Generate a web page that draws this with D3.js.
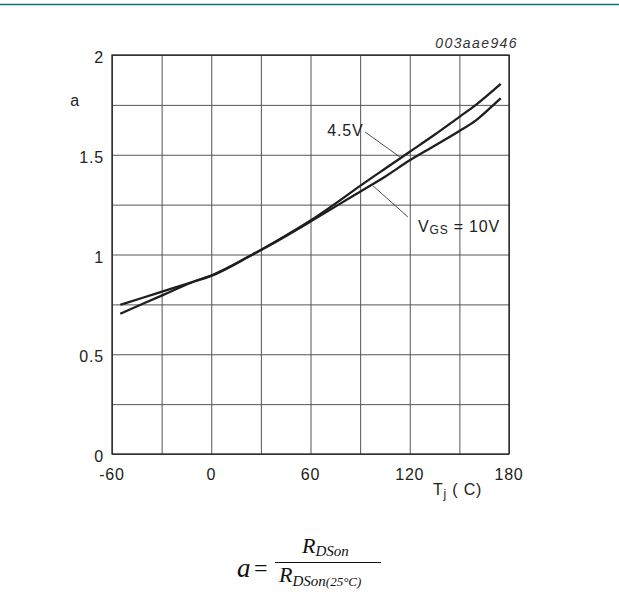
<!DOCTYPE html>
<html lang="en">
<head>
    <meta charset="UTF-8">
    <title>a vs Tj</title>
    <script src="https://d3js.org/d3.v7.min.js"></script>
    <style>
        body { margin: 0; background: #fff; }
        svg { font-family: "Liberation Sans", Arial, sans-serif; }
        .grid line { stroke: #555; stroke-width: 1; }
        .grid path { display: none; }
        .lbl { font-size: 16px; fill: #222; letter-spacing: 0.8px; }
    </style>
</head>
<body>
    <div id="chart"></div>

    <script>
        // junction temperature (°C) and normalised RDSon
        var temp45 = [-55, -40, -25, -10, 0, 25, 40, 60, 75, 90, 105, 120, 135, 150, 160, 175];
        var a45    = [0.703, 0.758, 0.812, 0.866, 0.895, 1.0, 1.07, 1.17, 1.255, 1.344, 1.43, 1.515, 1.60, 1.69, 1.75, 1.855];

        var temp10 = [-55, -40, -25, -10, 0, 25, 40, 60, 75, 90, 105, 120, 135, 150, 160, 170, 175];
        var a10    = [0.748, 0.787, 0.826, 0.866, 0.893, 1.0, 1.068, 1.165, 1.24, 1.315, 1.39, 1.472, 1.545, 1.619, 1.672, 1.745, 1.783];

        var xTicks = [-60, 0, 60, 120, 180];
        var yTicks = [0, 0.5, 1, 1.5, 2];

        var width = 619,
            height = 603;

        var svg = d3.select("#chart")
                    .append("svg")
                    .attr("width", width)
                    .attr("height", height);

        // teal rule at the top of the page
        svg.append("line")
           .attr("x1", 0).attr("x2", width)
           .attr("y1", 4.5).attr("y2", 4.5)
           .attr("stroke", "#0a7385")
           .attr("stroke-width", 1.6);

        var x = d3.scaleLinear().domain([-60, 180]).range([112, 509]);
        var y = d3.scaleLinear().domain([0, 2]).range([454, 55]);

        // grid
        svg.append("g")
           .attr("class", "grid")
           .attr("transform", "translate(0," + y(0) + ")")
           .call(d3.axisBottom(x).tickValues(d3.range(-60, 181, 30))
                   .tickSize(-(y(0) - y(2))).tickFormat(""));

        svg.append("g")
           .attr("class", "grid")
           .attr("transform", "translate(" + x(-60) + ",0)")
           .call(d3.axisLeft(y).tickValues(d3.range(0, 2.01, 0.25))
                   .tickSize(-(x(180) - x(-60))).tickFormat(""));

        svg.append("rect")
           .attr("x", x(-60)).attr("y", y(2))
           .attr("width", x(180) - x(-60))
           .attr("height", y(0) - y(2))
           .attr("fill", "none")
           .attr("stroke", "#222")
           .attr("stroke-width", 1.3);

        // tick labels
        svg.selectAll(".xt")
           .data(xTicks)
           .enter().append("text")
           .attr("class", "lbl")
           .attr("x", function(d) { return x(d); })
           .attr("y", y(0) + 26)
           .attr("text-anchor", "middle")
           .text(function(d) { return d; });

        svg.selectAll(".yt")
           .data(yTicks)
           .enter().append("text")
           .attr("class", "lbl")
           .attr("x", x(-60) - 8)
           .attr("y", function(d) { return y(d) + 8; })
           .attr("text-anchor", "end")
           .text(function(d) { return d; });

        // axis titles
        svg.append("text")
           .attr("class", "lbl")
           .attr("x", 75).attr("y", 106)
           .attr("text-anchor", "middle")
           .text("a");

        var tj = svg.append("text")
                    .attr("class", "lbl")
                    .attr("x", 433).attr("y", 495);
        tj.append("tspan").text("T");
        tj.append("tspan").attr("font-size", "12px").attr("dy", 3).text("j");
        tj.append("tspan").attr("dy", -3).text(" ( C)");

        svg.append("text")
           .attr("x", 518).attr("y", 48)
           .attr("text-anchor", "end")
           .attr("font-size", "14px")
           .attr("letter-spacing", "1.4px")
           .attr("font-style", "italic")
           .attr("fill", "#333")
           .text("003aae946");

        // curves
        var line = d3.line()
                     .x(function(d) { return x(d[0]); })
                     .y(function(d) { return y(d[1]); })
                     .curve(d3.curveMonotoneX);

        [[temp45, a45], [temp10, a10]].forEach(function(s) {
            svg.append("path")
               .datum(d3.zip(s[0], s[1]))
               .attr("fill", "none")
               .attr("stroke", "#1e1e1e")
               .attr("stroke-width", 2.3)
               .attr("d", line);
        });

        // curve labels with leader lines (data units)
        svg.append("line")
           .attr("x1", x(93)).attr("y1", y(1.614))
           .attr("x2", x(114)).attr("y2", y(1.489))
           .attr("stroke", "#222").attr("stroke-width", 0.8);

        svg.append("text")
           .attr("class", "lbl")
           .attr("x", x(92)).attr("y", y(1.593))
           .attr("text-anchor", "end")
           .text("4.5V");

        svg.append("line")
           .attr("x1", x(97.8)).attr("y1", y(1.344))
           .attr("x2", x(118.9)).attr("y2", y(1.188))
           .attr("stroke", "#222").attr("stroke-width", 0.8);

        var vgs = svg.append("text")
                     .attr("class", "lbl")
                     .attr("x", x(125)).attr("y", y(1.113));
        vgs.append("tspan").text("V");
        vgs.append("tspan").attr("font-size", "12px").attr("dy", 2).text("GS");
        vgs.append("tspan").attr("dy", -2).text(" = 10V");

        // formula
        var f = svg.append("g")
                   .attr("font-family", "'Liberation Serif', 'DejaVu Serif', serif")
                   .attr("font-style", "italic")
                   .attr("fill", "#111");

        f.append("text").attr("x", 237).attr("y", 577).attr("font-size", "27px").text("a");
        f.append("text").attr("x", 254).attr("y", 576).attr("font-size", "24px")
         .attr("font-style", "normal").text("=");
        f.append("line")
         .attr("x1", 275).attr("x2", 381)
         .attr("y1", 562.5).attr("y2", 562.5)
         .attr("stroke", "#111").attr("stroke-width", 1.2);

        var num = f.append("text").attr("x", 302).attr("y", 553).attr("font-size", "22px");
        num.append("tspan").text("R");
        num.append("tspan").attr("font-size", "15px").attr("dy", 3).text("DSon");

        var den = f.append("text").attr("x", 279).attr("y", 582).attr("font-size", "22px");
        den.append("tspan").text("R");
        den.append("tspan").attr("font-size", "15px").attr("dy", 4).text("DSon");
        den.append("tspan").attr("font-size", "13px").text("(25°C)");
    </script>
</body>
</html>
